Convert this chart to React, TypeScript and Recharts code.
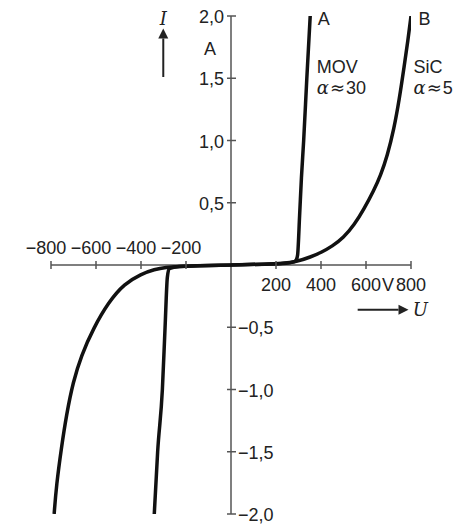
import {
  ComposedChart,
  Line,
  ReferenceDot,
  ReferenceLine,
  XAxis,
  YAxis,
} from "recharts";

// MOV varistor (curve A), voltage U in V and current I in A
const movU = [-341, -326, -305, -293, -283, -275, -230, -150, 0, 150, 230, 280, 290, 296, 305, 313, 323, 337, 352];
const movI = [-2.0, -1.5, -1.0, -0.5, -0.1, -0.03, -0.012, -0.007, 0, 0.007, 0.012, 0.025, 0.04, 0.08, 0.4, 0.7, 1.0, 1.5, 2.0];

// SiC varistor (curve B)
const sicU = [-786, -776, -754, -731, -702, -665, -612, -545, -474, -399, -340, -290, -230, -150, 0, 150, 230, 290, 355, 400, 450, 500, 547, 591, 635, 665, 695, 724, 748, 770, 786, 800];
const sicI = [-2.0, -1.77, -1.47, -1.2, -0.94, -0.725, -0.51, -0.3, -0.15, -0.072, -0.035, -0.018, -0.012, -0.007, 0, 0.007, 0.012, 0.025, 0.065, 0.1, 0.15, 0.22, 0.32, 0.45, 0.6, 0.72, 0.88, 1.09, 1.33, 1.6, 1.8, 2.0];

const uTicks = [-800, -600, -400, -200, 200, 400, 600, 800];
const uTickLabels = ["−800", "−600", "−400", "−200", "200", "400", "600", "800"];
const uUnitTick = 600;

const iTicks = [2, 1.5, 1, 0.5, -0.5, -1, -1.5, -2];
const iTickLabels = ["2,0", "1,5", "1,0", "0,5", "−0,5", "−1,0", "−1,5", "−2,0"];

const movData = movU.map((u, k) => ({ u, i: movI[k] }));
const sicData = sicU.map((u, k) => ({ u, i: sicI[k] }));

const FONT = '"Liberation Sans", Arial, sans-serif';
const INK = "#222";
const AXIS = "#555";

function XTick({ cx, cy, label, unit }: any) {
  const above = label.startsWith("−");
  return (
    <g>
      <line x1={cx} y1={cy - 4} x2={cx} y2={cy + 4} stroke={AXIS} strokeWidth={1.5} />
      <text
        x={above ? cx - 5 : cx}
        y={above ? cy - 11 : cy + 26}
        textAnchor="middle"
        fontSize={18}
        fontFamily={FONT}
        fill={INK}
      >
        {label}
      </text>
      {unit && (
        <text x={cx + 16} y={cy + 26} textAnchor="start" fontSize={18} fontFamily={FONT} fill={INK}>
          {unit}
        </text>
      )}
    </g>
  );
}

function YTick({ cx, cy, label }: any) {
  const right = label.startsWith("−");
  return (
    <g>
      <line x1={cx - 4} y1={cy} x2={cx + 5} y2={cy} stroke={AXIS} strokeWidth={1.5} />
      <text
        x={right ? cx + 7 : cx - 7}
        y={cy + 7}
        textAnchor={right ? "start" : "end"}
        fontSize={18}
        fontFamily={FONT}
        fill={INK}
      >
        {label}
      </text>
    </g>
  );
}

function Note({ cx, cy, children, anchor = "start" }: any) {
  return (
    <text x={cx} y={cy} textAnchor={anchor} fontSize={18} fontFamily={FONT} fill={INK}>
      {children}
    </text>
  );
}

function Arrow({ x1, y1, x2, y2 }: any) {
  const len = Math.hypot(x2 - x1, y2 - y1) || 1;
  const dx = (x2 - x1) / len;
  const dy = (y2 - y1) / len;
  const bx = x2 - dx * 10;
  const by = y2 - dy * 10;
  const head = `${x2},${y2} ${bx - dy * 5},${by + dx * 5} ${bx + dy * 5},${by - dx * 5}`;
  return (
    <g>
      <line x1={x1} y1={y1} x2={bx} y2={by} stroke={INK} strokeWidth={2} />
      <polygon points={head} fill={INK} />
    </g>
  );
}

const italic = { fontStyle: "italic", fontFamily: '"DejaVu Serif", "Liberation Serif", serif' };
const wide = { fontFamily: '"DejaVu Sans", sans-serif' };

function Alpha({ value }: { value: string }) {
  return (
    <>
      <tspan style={italic}>α</tspan>
      <tspan style={wide} dx={1}>≈</tspan>
      <tspan dx={1}>{value}</tspan>
    </>
  );
}

export default function App() {
  return (
    <div style={{ width: 460, height: 518, fontFamily: FONT }}>
      <ComposedChart width={460} height={518} margin={{ top: 8, right: 57, bottom: 12, left: 43 }}>
        <XAxis dataKey="u" type="number" domain={[-800, 800]} hide allowDataOverflow />
        <YAxis type="number" domain={[-2, 2]} hide allowDataOverflow />

        <ReferenceLine y={0} stroke={AXIS} strokeWidth={1.5} ifOverflow="visible" />
        <ReferenceLine x={0} stroke={AXIS} strokeWidth={1.5} ifOverflow="visible" />

        {uTicks.map((u, k) => (
          <ReferenceDot
            key={`u${u}`}
            x={u}
            y={0}
            r={1}
            ifOverflow="visible"
            shape={(p: any) => (
              <XTick cx={p.cx} cy={p.cy} label={uTickLabels[k]} unit={u === uUnitTick ? "V" : undefined} />
            )}
          />
        ))}
        {iTicks.map((v, k) => (
          <ReferenceDot
            key={`i${v}`}
            x={0}
            y={v}
            r={1}
            ifOverflow="visible"
            shape={(p: any) => <YTick cx={p.cx} cy={p.cy} label={iTickLabels[k]} />}
          />
        ))}

        {/* axis names and arrows */}
        <ReferenceDot x={-301} y={1.93} r={1} ifOverflow="visible"
          shape={(p: any) => <Note cx={p.cx} cy={p.cy} anchor="middle"><tspan style={italic}>I</tspan></Note>} />
        <ReferenceLine segment={[{ x: -301, y: 1.51 }, { x: -301, y: 1.9 }]} ifOverflow="visible"
          shape={(p: any) => <Arrow {...p} />} />
        <ReferenceDot x={-93} y={1.69} r={1} ifOverflow="visible"
          shape={(p: any) => <Note cx={p.cx} cy={p.cy} anchor="middle">A</Note>} />
        <ReferenceDot x={842} y={-0.41} r={1} ifOverflow="visible"
          shape={(p: any) => <Note cx={p.cx} cy={p.cy} anchor="middle"><tspan style={italic}>U</tspan></Note>} />
        <ReferenceLine segment={[{ x: 563, y: -0.36 }, { x: 789, y: -0.36 }]} ifOverflow="visible"
          shape={(p: any) => <Arrow {...p} />} />

        {/* curve labels */}
        <ReferenceDot x={386} y={1.93} r={1} ifOverflow="visible"
          shape={(p: any) => <Note cx={p.cx} cy={p.cy}>A</Note>} />
        <ReferenceDot x={381} y={1.54} r={1} ifOverflow="visible"
          shape={(p: any) => <Note cx={p.cx} cy={p.cy}>MOV</Note>} />
        <ReferenceDot x={381} y={1.37} r={1} ifOverflow="visible"
          shape={(p: any) => <Note cx={p.cx} cy={p.cy}><Alpha value="30" /></Note>} />
        <ReferenceDot x={833} y={1.93} r={1} ifOverflow="visible"
          shape={(p: any) => <Note cx={p.cx} cy={p.cy}>B</Note>} />
        <ReferenceDot x={811} y={1.54} r={1} ifOverflow="visible"
          shape={(p: any) => <Note cx={p.cx} cy={p.cy}>SiC</Note>} />
        <ReferenceDot x={811} y={1.37} r={1} ifOverflow="visible"
          shape={(p: any) => <Note cx={p.cx} cy={p.cy}><Alpha value="5" /></Note>} />

        <Line data={sicData} dataKey="i" type="basis" stroke="#111" strokeWidth={3.5} dot={false} isAnimationActive={false} />
        <Line data={movData} dataKey="i" type="monotone" stroke="#111" strokeWidth={3.5} dot={false} isAnimationActive={false} />
      </ComposedChart>
    </div>
  );
}
